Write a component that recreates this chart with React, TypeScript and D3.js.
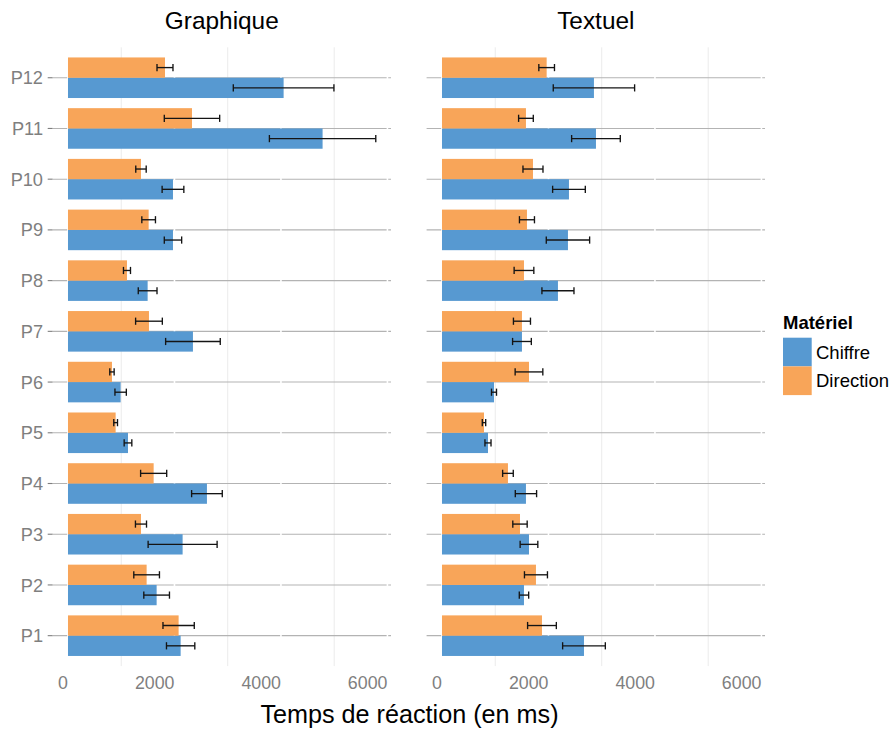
import React from "react";
import * as d3 from "d3";

const participants = ["P1", "P2", "P3", "P4", "P5", "P6", "P7", "P8", "P9", "P10", "P11", "P12"];
const panels = ["Graphique", "Textuel"];
const materials = ["Chiffre", "Direction"];
const xTicks = [0, 2000, 4000, 6000];
const xMinor = [1000, 3000, 5000];

// mean reaction times (ms), P1..P12
const graphiqueChiffre = [2116, 1665, 2153, 2610, 1127, 989, 2347, 1496, 1972, 1972, 4782, 4050];
const graphiqueChiffreErr = [266, 241, 648, 288, 72, 107, 513, 176, 163, 204, 999, 945];
const graphiqueDirection = [2078, 1477, 1371, 1609, 895, 826, 1521, 1108, 1515, 1371, 2329, 1822];
const graphiqueDirectionErr = [294, 241, 104, 245, 35, 41, 251, 66, 128, 98, 520, 150];
const textuelChiffre = [2667, 1540, 1634, 1577, 864, 977, 1502, 2178, 2366, 2385, 2892, 2854];
const textuelChiffreErr = [401, 88, 166, 200, 57, 47, 176, 301, 407, 307, 457, 764];
const textuelDirection = [1878, 1765, 1465, 1239, 789, 1634, 1502, 1540, 1596, 1709, 1577, 1966];
const textuelDirectionErr = [270, 216, 135, 100, 32, 260, 160, 185, 141, 188, 138, 147];

const colors: Record<string, string> = { Chiffre: "#5799d1", Direction: "#f8a559" };

const seriesByPanel: Record<string, { mat: string; vals: number[]; errs: number[] }[]> = {
  Graphique: [
    { mat: "Chiffre", vals: graphiqueChiffre, errs: graphiqueChiffreErr },
    { mat: "Direction", vals: graphiqueDirection, errs: graphiqueDirectionErr },
  ],
  Textuel: [
    { mat: "Chiffre", vals: textuelChiffre, errs: textuelChiffreErr },
    { mat: "Direction", vals: textuelDirection, errs: textuelDirectionErr },
  ],
};

const W = 892;
const H = 735;
const FONT = "'Liberation Sans', Arial, Helvetica, sans-serif";
const panelX = [
  [52.6, 391],
  [426.6, 765],
];
const panelTop = 47.3;
const panelBottom = 666.1;

export default function App() {
  const y = d3
    .scalePoint<string>()
    .domain([...participants].reverse())
    .range([panelTop, panelBottom])
    .padding(0.6);
  const step = y.step();
  const barH = step * 0.4;
  const cap = 3.6;

  return (
    <svg
      width={W}
      height={H}
      style={{ position: "absolute", left: 0, top: 0, background: "#fff" }}
      fontFamily={FONT}
    >
      {panels.map((p, pi) => {
        const x = d3.scaleLinear().domain([-289, 6067]).range(panelX[pi]);
        const [x0, x1] = panelX[pi];
        return (
          <g key={p}>
            {xMinor.map((t) => (
              <line key={"m" + t} x1={x(t)} x2={x(t)} y1={panelTop} y2={panelBottom} stroke="#ebebeb" strokeWidth={1} />
            ))}
            {participants.map((c) => (
              <line key={"h" + c} x1={x0} x2={x1} y1={y(c)!} y2={y(c)!} stroke="#b3b3b3" strokeWidth={1.1} />
            ))}
            {xTicks.map((t) => (
              <line key={"M" + t} x1={x(t)} x2={x(t)} y1={panelTop} y2={panelBottom} stroke="#ffffff" strokeWidth={1.6} />
            ))}
            {seriesByPanel[p].map((s, si) =>
              participants.map((c, ci) => {
                const cy = y(c)!;
                const top = si === 0 ? cy : cy - barH;
                return (
                  <rect
                    key={s.mat + c}
                    x={x(0)}
                    y={top}
                    width={x(s.vals[ci]) - x(0)}
                    height={barH}
                    fill={colors[s.mat]}
                  />
                );
              })
            )}
            {seriesByPanel[p].map((s, si) =>
              participants.map((c, ci) => {
                const cy = y(c)! + (si === 0 ? barH / 2 : -barH / 2);
                const lo = x(s.vals[ci] - s.errs[ci]);
                const hi = x(s.vals[ci] + s.errs[ci]);
                return (
                  <g key={"e" + s.mat + c} stroke="#141414" strokeWidth={1.35}>
                    <line x1={lo} x2={hi} y1={cy} y2={cy} />
                    <line x1={lo} x2={lo} y1={cy - cap} y2={cy + cap} />
                    <line x1={hi} x2={hi} y1={cy - cap} y2={cy + cap} />
                  </g>
                );
              })
            )}
            {xTicks.map((t) => (
              <text key={"t" + t} x={x(t)} y={689} textAnchor="end" fontSize={17.8} fill="#7f7f7f">
                {t}
              </text>
            ))}
            <text x={(x0 + x1) / 2} y={28.5} textAnchor="middle" fontSize={24.4} fill="#000">
              {p}
            </text>
          </g>
        );
      })}
      {participants.map((c) => (
        <g key={"y" + c}>
          <line x1={47.7} x2={52.6} y1={y(c)!} y2={y(c)!} stroke="#7f7f7f" strokeWidth={1.1} />
          <text x={43} y={y(c)! + 6.6} textAnchor="end" fontSize={18.2} fill="#7f7f7f">
            {c}
          </text>
        </g>
      ))}
      <text x={409.5} y={723} textAnchor="middle" fontSize={25.2} fill="#000">
        Temps de réaction (en ms)
      </text>
      <text x={783} y={329} fontSize={18.5} fontWeight="bold" fill="#000">
        Matériel
      </text>
      {materials.map((m, i) => (
        <g key={m}>
          <rect x={783} y={337.7 + i * 28.7} width={28.7} height={28.7} fill={colors[m]} />
          <text x={816} y={358.5 + i * 28.7} fontSize={18.5} fill="#000">
            {m}
          </text>
        </g>
      ))}
    </svg>
  );
}
